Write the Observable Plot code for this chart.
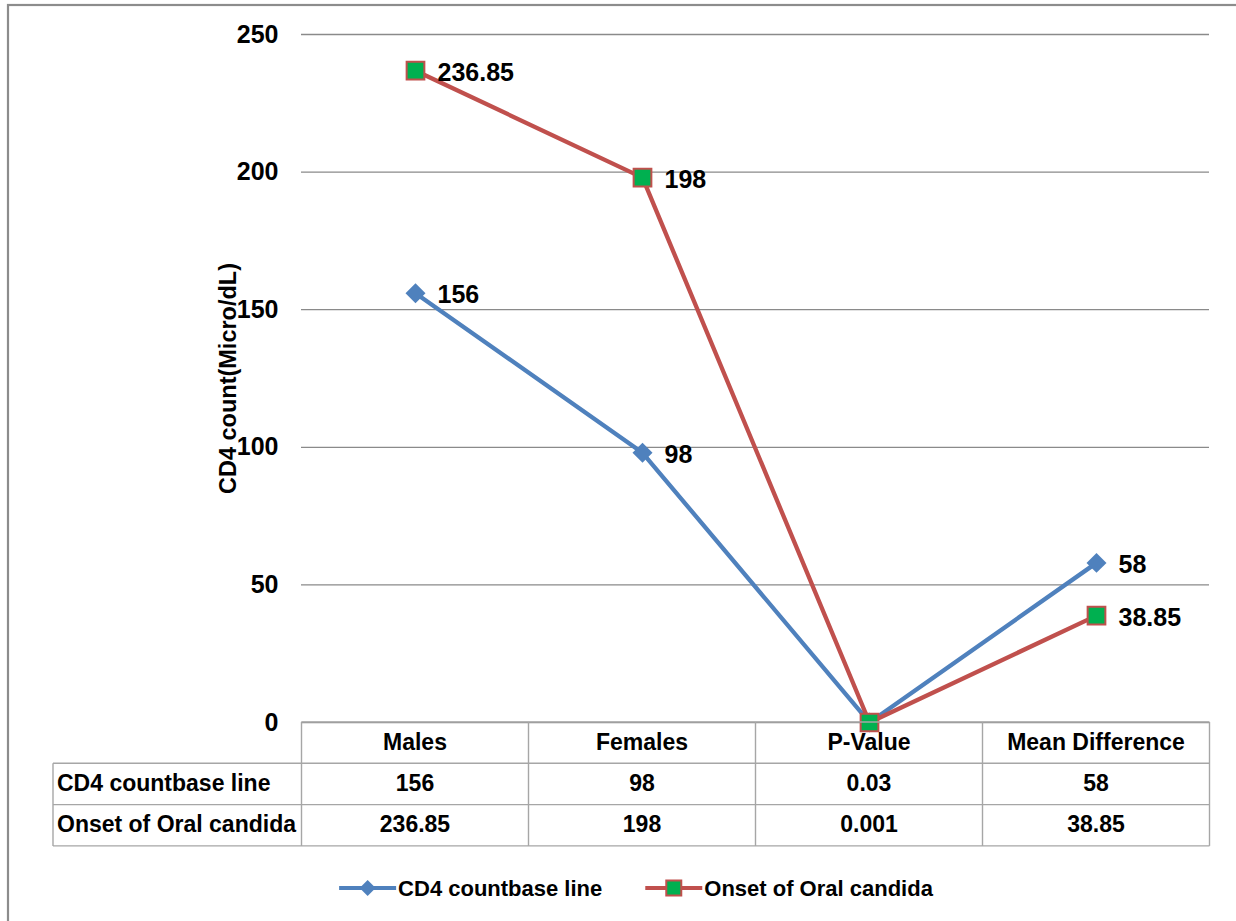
<!DOCTYPE html>
<html>
<head>
<meta charset="utf-8">
<script src="https://cdn.jsdelivr.net/npm/d3@7"></script>
<script src="https://cdn.jsdelivr.net/npm/@observablehq/plot@0.6"></script>
<style>
  html, body { margin: 0; padding: 0; background: #fff; }
  #chart { position: relative; width: 1236px; height: 921px; overflow: hidden; }
  #chart svg { display: block; }
</style>
</head>
<body>
<div id="chart"></div>
<script>
// Categories along the x axis (also the column headers of the data table)
const categories = ["Males", "Females", "P-Value", "Mean Difference"];
// Series names
const seriesNames = ["CD4 countbase line", "Onset of Oral candida"];
// Series values, one per category
const cd4Baseline = [156, 98, 0.03, 58];
const oralCandida = [236.85, 198, 0.001, 38.85];
// Y axis
const yTicks = [0, 50, 100, 150, 200, 250];
const yTitle = "CD4 count(Micro/dL)";
// Categories whose points carry a value label
const labelledCategories = ["Males", "Females", "Mean Difference"];

const seriesColors = ["#4F81BD", "#C0504D"];
const squareFill = "#00B050";
const FONT = "'Liberation Sans', Arial, Helvetica, sans-serif";

const seriesValues = [cd4Baseline, oralCandida];
const rows = seriesNames.flatMap((s, si) =>
  categories.map((c, ci) => ({series: s, category: c, value: seriesValues[si][ci]}))
);
const bySeries = (s) => rows.filter(d => d.series === s);
const labelRows = rows.filter(d => labelledCategories.includes(d.category));

const chart = Plot.plot({
  width: 1236,
  height: 921,
  marginLeft: 301,
  marginRight: 27,
  marginTop: 34,
  marginBottom: 199,
  style: {fontFamily: FONT, fontSize: "25px", fontWeight: "bold", color: "#000", background: "transparent"},
  x: {type: "point", domain: categories, padding: 0.5, axis: null},
  y: {domain: [0, 250]},
  color: {domain: seriesNames, range: seriesColors},
  marks: [
    Plot.gridY(yTicks, {stroke: "#8a8a8a", strokeOpacity: 1, strokeWidth: 1.3}),
    Plot.axisY(yTicks, {tickSize: 0, tickPadding: 23, label: null, fontSize: 25, fontWeight: "bold", fill: "#000"}),
    Plot.text([yTitle], {frameAnchor: "left", textAnchor: "middle", rotate: -90, dx: -73, fontSize: 23.5, fontWeight: "bold", fill: "#000"}),
    // CD4 baseline series
    Plot.line(bySeries(seriesNames[0]), {x: "category", y: "value", stroke: seriesColors[0], strokeWidth: 4.3, strokeLinejoin: "round", strokeLinecap: "round"}),
    Plot.dot(bySeries(seriesNames[0]), {x: "category", y: "value", symbol: "diamond2", r: 9, fill: seriesColors[0], stroke: "none"}),
    // Onset of oral candida series
    Plot.line(bySeries(seriesNames[1]), {x: "category", y: "value", stroke: seriesColors[1], strokeWidth: 4.3, strokeLinejoin: "round", strokeLinecap: "round"}),
    Plot.dot(bySeries(seriesNames[1]), {x: "category", y: "value", symbol: "square", r: 10, fill: squareFill, stroke: seriesColors[1], strokeWidth: 2}),
    // Value labels
    Plot.text(labelRows, {x: "category", y: "value", text: d => String(d.value), dx: 22, dy: 2, textAnchor: "start", fontSize: 25, fontWeight: "bold", fill: "#000"})
  ]
});

document.getElementById("chart").appendChild(chart);

// ---- Data table below the plot, aligned with the x scale ----
const svg = d3.select(chart);
const xs = chart.scale("x");
const ys = chart.scale("y");
const step = xs.apply(categories[1]) - xs.apply(categories[0]);
const colLeft = (c) => xs.apply(c) - step / 2;
const tableRight = colLeft(categories[categories.length - 1]) + step;
const tableLeft = 53;
const top0 = ys.apply(0);
const rowH = 41.3;
const lineColor = "#a6a6a6";

const table = svg.append("g")
  .attr("font-family", FONT)
  .attr("font-weight", "bold")
  .attr("font-size", 23)
  .attr("fill", "#000");

const hline = (x1, x2, y) => table.append("line")
  .attr("x1", x1).attr("x2", x2).attr("y1", y).attr("y2", y)
  .attr("stroke", lineColor).attr("stroke-width", 1.4);
const vline = (x, y1, y2) => table.append("line")
  .attr("x1", x).attr("x2", x).attr("y1", y1).attr("y2", y2)
  .attr("stroke", lineColor).attr("stroke-width", 1.4);

hline(colLeft(categories[0]), tableRight, top0);
for (let r = 1; r <= 3; r++) hline(tableLeft, tableRight, top0 + r * rowH);
vline(tableLeft, top0 + rowH, top0 + 3 * rowH);
categories.forEach(c => vline(colLeft(c), top0, top0 + 3 * rowH));
vline(tableRight, top0, top0 + 3 * rowH);

const cellText = (x, y, text, anchor) => table.append("text")
  .attr("x", x).attr("y", y)
  .attr("text-anchor", anchor)
  .attr("dominant-baseline", "central")
  .text(text);

categories.forEach(c => cellText(xs.apply(c), top0 + rowH / 2 - 1, c, "middle"));
seriesNames.forEach((s, si) => {
  const yc = top0 + (si + 1.5) * rowH - 1;
  cellText(tableLeft + 4, yc, s, "start");
  categories.forEach((c, ci) => cellText(xs.apply(c), yc, String(seriesValues[si][ci]), "middle"));
});

// ---- Legend ----
const legendY = 888;
const swatchW = 57;
const legend = svg.append("g")
  .attr("font-family", FONT)
  .attr("font-weight", "bold")
  .attr("font-size", 22)
  .attr("text-anchor", "start")
  .attr("fill", "#000");

const items = seriesNames.map((s, i) => {
  const g = legend.append("g");
  g.append("line").attr("x1", 0).attr("x2", swatchW).attr("y1", 0).attr("y2", 0)
    .attr("stroke", seriesColors[i]).attr("stroke-width", 4);
  if (i === 0) {
    g.append("path").attr("d", "M28.5,-8L36.5,0L28.5,8L20.5,0Z").attr("fill", seriesColors[0]);
  } else {
    g.append("rect").attr("x", 21).attr("y", -7.5).attr("width", 15).attr("height", 15)
      .attr("fill", squareFill).attr("stroke", seriesColors[1]).attr("stroke-width", 2);
  }
  const t = g.append("text").attr("x", swatchW + 2).attr("y", 0)
    .attr("text-anchor", "start")
    .attr("dominant-baseline", "central").text(s);
  return {g, w: swatchW + 2 + t.node().getComputedTextLength()};
});
const gap = 43;
const total = d3.sum(items, d => d.w) + gap * (items.length - 1);
let lx = 636 - total / 2;
items.forEach(it => { it.g.attr("transform", `translate(${lx},${legendY})`); lx += it.w + gap; });

// ---- Outer frame ----
svg.append("rect")
  .attr("x", 8).attr("y", 5).attr("width", 1250).attr("height", 940)
  .attr("fill", "none").attr("stroke", "#8c8c8c").attr("stroke-width", 2.2);
</script>
</body>
</html>
